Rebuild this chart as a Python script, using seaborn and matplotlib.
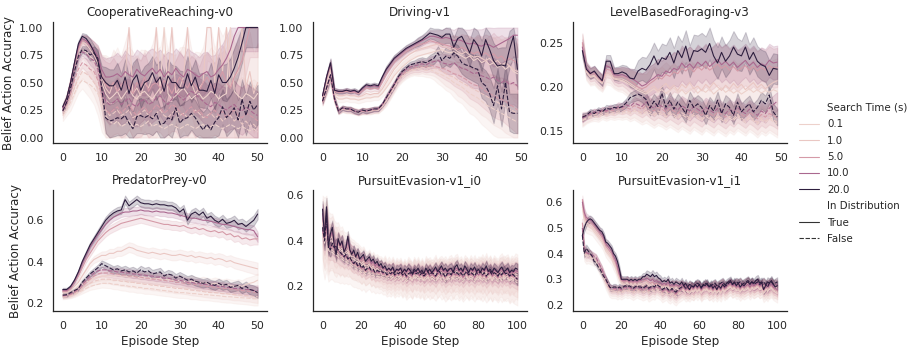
import matplotlib
matplotlib.use("Agg")
import matplotlib.pyplot as plt
import numpy as np
import pandas as pd
import seaborn as sns

ENVS = ["CooperativeReaching-v0", "Driving-v1", "LevelBasedForaging-v3",
        "PredatorPrey-v0", "PursuitEvasion-v1_i0", "PursuitEvasion-v1_i1"]
SEARCH_TIMES = [0.1, 1.0, 5.0, 10.0, 20.0]
X_LABEL = "Episode Step"
Y_LABEL = "Belief Action Accuracy"
HUE_LABEL = "Search Time (s)"
STYLE_LABEL = "In Distribution"

# ---------------- CooperativeReaching-v0 (steps 0..50) ----------------
cr_t_20 = [0.28,0.36,0.50,0.68,0.85,0.92,0.90,0.85,0.78,0.70,
           0.55,0.50,0.47,0.47,0.52,0.43,0.55,0.40,0.52,0.57,
           0.43,0.50,0.52,0.59,0.50,0.55,0.42,0.56,0.50,0.50,
           0.45,0.45,0.58,0.47,0.55,0.43,0.43,0.42,0.52,0.40,
           0.57,0.50,0.50,0.55,0.63,0.73,0.86,1.00,1.00,1.00,
           1.00]
cr_f_20 = [0.24,0.32,0.45,0.60,0.74,0.80,0.79,0.75,0.77,0.72,
           0.45,0.18,0.15,0.16,0.18,0.17,0.20,0.13,0.08,0.19,
           0.20,0.18,0.20,0.17,0.22,0.12,0.13,0.18,0.16,0.27,
           0.13,0.17,0.18,0.22,0.18,0.12,0.07,0.12,0.07,0.14,
           0.18,0.28,0.18,0.22,0.27,0.16,0.35,0.20,0.33,0.25,
           0.30]
cr_t_10 = [0.27,0.35,0.50,0.67,0.83,0.90,0.88,0.84,0.80,0.74,
           0.62,0.55,0.55,0.56,0.58,0.55,0.60,0.57,0.55,0.62,
           0.58,0.56,0.60,0.63,0.58,0.62,0.55,0.60,0.57,0.63,
           0.58,0.55,0.62,0.60,0.57,0.55,0.58,0.60,0.55,0.57,
           0.62,0.66,0.72,0.80,0.92,1.00,1.00,1.00,1.00,1.00,
           1.00]
cr_f_10 = [0.25,0.33,0.45,0.60,0.72,0.78,0.76,0.72,0.70,0.62,
           0.45,0.33,0.30,0.32,0.35,0.30,0.33,0.36,0.30,0.28,
           0.33,0.35,0.30,0.32,0.36,0.38,0.33,0.30,0.35,0.40,
           0.37,0.34,0.38,0.42,0.40,0.36,0.33,0.30,0.28,0.32,
           0.30,0.27,0.25,0.28,0.30,0.26,0.24,0.28,0.25,0.22,
           0.20]
cr_t_5 = [0.27,0.35,0.50,0.66,0.80,0.88,0.87,0.83,0.78,0.70,
          0.58,0.48,0.45,0.50,0.42,0.48,0.52,0.45,0.40,0.50,
          0.46,0.55,0.42,0.48,0.50,0.45,0.52,0.47,0.40,0.48,
          0.55,0.50,0.45,0.52,0.47,0.42,0.50,0.55,0.48,0.45,
          0.52,0.60,0.50,0.45,0.55,0.62,0.70,0.85,1.00,1.00,
          1.00]
cr_f_5 = [0.24,0.30,0.40,0.52,0.62,0.68,0.66,0.62,0.60,0.52,
          0.38,0.25,0.22,0.25,0.28,0.22,0.26,0.30,0.24,0.20,
          0.25,0.28,0.22,0.25,0.30,0.27,0.22,0.25,0.30,0.28,
          0.24,0.20,0.25,0.28,0.22,0.25,0.20,0.18,0.22,0.25,
          0.20,0.24,0.18,0.22,0.25,0.20,0.18,0.22,0.20,0.18,
          0.15]
cr_t_1 = [0.28,0.36,0.50,0.66,0.80,0.86,0.85,0.80,0.75,0.68,
          0.55,0.45,0.40,0.50,0.42,0.45,0.55,1.00,0.40,0.45,
          0.38,0.50,0.45,0.55,1.00,0.40,0.45,0.50,1.00,0.40,
          0.45,0.55,1.00,0.50,0.40,0.45,0.50,1.00,1.00,0.50,
          1.00,0.60,1.00,0.45,0.55,0.60,1.00,0.45,0.60,0.40,
          0.50]
cr_f_1 = [0.22,0.28,0.36,0.45,0.54,0.60,0.58,0.55,0.50,0.45,
          0.35,0.25,0.20,0.22,0.25,0.20,0.22,0.25,0.18,0.20,
          0.22,0.25,0.20,0.18,0.22,0.25,0.20,0.18,0.22,0.25,
          0.20,0.22,0.18,0.20,0.25,0.22,0.18,0.20,0.22,0.18,
          0.20,0.15,0.18,0.20,0.15,0.18,0.12,0.15,0.10,0.12,
          0.08]
cr_t_01 = [0.26,0.34,0.46,0.60,0.74,0.80,0.78,0.74,0.70,0.62,
           0.50,0.40,0.35,0.38,0.42,0.35,0.40,0.45,0.38,0.35,
           0.40,0.42,0.38,0.35,0.40,0.45,1.00,0.40,0.35,0.38,
           0.42,0.45,0.40,0.35,0.38,0.40,0.35,0.38,0.42,0.40,
           0.35,0.38,0.40,1.00,0.42,0.38,0.35,0.40,0.38,0.35,
           0.40]
cr_f_01 = [0.20,0.25,0.32,0.40,0.48,0.52,0.50,0.48,0.45,0.40,
           0.30,0.20,0.15,0.12,0.15,0.10,0.12,0.15,0.10,0.12,
           0.10,0.12,0.15,0.10,0.12,0.10,0.08,0.10,0.12,0.10,
           0.08,0.10,0.12,0.10,0.08,0.10,0.12,0.08,0.10,0.12,
           0.10,0.08,0.10,0.12,0.10,0.08,0.10,0.08,0.06,0.08,
           0.05]
cr_spread = [0.02,0.02,0.03,0.03,0.03,0.03,0.04,0.05,0.06,0.08,
             0.10,0.14,0.15,0.15,0.16,0.15,0.16,0.15,0.16,0.15,
             0.16,0.15,0.16,0.15,0.16,0.15,0.16,0.15,0.16,0.15,
             0.16,0.15,0.16,0.15,0.16,0.15,0.16,0.15,0.16,0.15,
             0.16,0.16,0.17,0.17,0.18,0.18,0.18,0.18,0.18,0.18,
             0.18]
cr_band_scale = [2.5, 2.0, 1.5, 1.2, 1.0]
cr_false_scale = 1.0

# ---------------- Driving-v1 (steps 0..49) ----------------
dr_t_20 = [0.38,0.55,0.68,0.43,0.42,0.42,0.43,0.42,0.43,0.41,
           0.45,0.48,0.47,0.48,0.47,0.55,0.62,0.67,0.72,0.75,
           0.78,0.81,0.83,0.85,0.87,0.89,0.92,0.95,0.94,0.93,
           0.91,0.94,0.94,0.82,0.90,0.92,0.85,0.77,0.89,0.84,
           0.74,0.89,0.80,0.70,0.65,0.66,0.65,0.80,0.92,0.62]
dr_f_20 = [0.33,0.45,0.57,0.35,0.24,0.27,0.26,0.26,0.24,0.23,
           0.25,0.24,0.25,0.26,0.26,0.30,0.36,0.42,0.48,0.55,
           0.60,0.63,0.66,0.67,0.68,0.69,0.68,0.70,0.72,0.77,
           0.70,0.74,0.72,0.77,0.74,0.68,0.66,0.65,0.63,0.62,
           0.50,0.47,0.40,0.29,0.47,0.26,0.50,0.23,0.22,0.22]
dr_t_10 = [0.38,0.55,0.67,0.43,0.42,0.42,0.43,0.42,0.42,0.41,
           0.44,0.47,0.46,0.47,0.46,0.54,0.61,0.66,0.71,0.74,
           0.77,0.80,0.82,0.84,0.86,0.88,0.90,0.92,0.92,0.91,
           0.90,0.91,0.90,0.88,0.89,0.88,0.86,0.85,0.86,0.84,
           0.83,0.85,0.84,0.82,0.84,0.86,0.88,0.90,0.93,0.93]
dr_f_10 = [0.33,0.45,0.56,0.35,0.24,0.27,0.26,0.26,0.24,0.23,
           0.25,0.24,0.25,0.26,0.26,0.30,0.36,0.42,0.48,0.54,
           0.59,0.62,0.64,0.65,0.66,0.67,0.66,0.68,0.69,0.70,
           0.68,0.67,0.66,0.68,0.65,0.63,0.62,0.60,0.58,0.59,
           0.56,0.55,0.53,0.55,0.52,0.50,0.52,0.48,0.50,0.47]
dr_t_5 = [0.37,0.53,0.65,0.42,0.41,0.41,0.42,0.41,0.41,0.40,
          0.42,0.45,0.44,0.45,0.44,0.50,0.57,0.63,0.68,0.72,
          0.75,0.78,0.80,0.82,0.84,0.85,0.86,0.88,0.87,0.86,
          0.85,0.84,0.83,0.82,0.80,0.82,0.80,0.78,0.76,0.78,
          0.75,0.77,0.74,0.76,0.72,0.74,0.70,0.72,0.70,0.68]
dr_f_5 = [0.32,0.44,0.55,0.34,0.24,0.26,0.26,0.25,0.24,0.23,
          0.24,0.24,0.25,0.25,0.26,0.29,0.35,0.41,0.47,0.53,
          0.57,0.60,0.62,0.63,0.64,0.65,0.64,0.66,0.65,0.64,
          0.63,0.62,0.60,0.58,0.57,0.55,0.53,0.50,0.48,0.47,
          0.45,0.42,0.40,0.38,0.36,0.35,0.33,0.30,0.28,0.25]
dr_t_1 = [0.36,0.50,0.62,0.40,0.38,0.38,0.39,0.38,0.38,0.37,
          0.38,0.40,0.39,0.40,0.40,0.44,0.50,0.56,0.62,0.66,
          0.70,0.73,0.76,0.78,0.80,0.81,0.82,0.83,0.84,0.85,
          0.83,0.82,0.80,0.81,0.78,0.76,0.78,0.75,0.73,0.74,
          0.72,0.70,0.72,0.68,0.70,0.66,0.68,0.65,0.62,0.60]
dr_f_1 = [0.32,0.43,0.54,0.34,0.24,0.26,0.25,0.25,0.24,0.23,
          0.24,0.24,0.24,0.25,0.25,0.28,0.34,0.40,0.46,0.52,
          0.56,0.59,0.61,0.62,0.63,0.64,0.63,0.64,0.63,0.62,
          0.60,0.58,0.56,0.55,0.52,0.50,0.48,0.46,0.44,0.42,
          0.40,0.38,0.36,0.34,0.32,0.30,0.28,0.26,0.24,0.22]
dr_t_01 = [0.35,0.48,0.60,0.38,0.35,0.35,0.36,0.35,0.35,0.34,
           0.35,0.36,0.36,0.37,0.37,0.40,0.45,0.50,0.56,0.60,
           0.64,0.67,0.70,0.72,0.74,0.75,0.76,0.77,0.78,0.79,
           0.80,0.78,0.77,0.78,0.76,0.74,0.72,0.74,0.70,0.72,
           0.68,0.70,0.66,0.68,0.64,0.66,0.62,0.65,0.60,0.58]
dr_f_01 = [0.32,0.43,0.53,0.34,0.24,0.26,0.25,0.25,0.24,0.23,
           0.24,0.24,0.24,0.25,0.25,0.28,0.33,0.39,0.45,0.51,
           0.55,0.58,0.60,0.61,0.62,0.62,0.61,0.62,0.60,0.58,
           0.57,0.55,0.53,0.50,0.48,0.46,0.43,0.40,0.38,0.36,
           0.33,0.30,0.28,0.26,0.24,0.22,0.20,0.18,0.16,0.14]
dr_spread = [0.02,0.03,0.04,0.02,0.02,0.02,0.02,0.02,0.02,0.02,
             0.02,0.02,0.02,0.02,0.02,0.02,0.03,0.03,0.03,0.03,
             0.03,0.03,0.03,0.03,0.04,0.04,0.04,0.05,0.05,0.06,
             0.07,0.08,0.08,0.09,0.10,0.10,0.11,0.12,0.12,0.13,
             0.14,0.14,0.15,0.16,0.16,0.16,0.17,0.17,0.18,0.18]
dr_band_scale = [1.5, 1.4, 1.2, 1.1, 1.0]
dr_false_scale = 1.0

# ---------------- LevelBasedForaging-v3 (steps 0..49) ----------------
lbf_t_20 = [0.241,0.220,0.215,0.218,0.212,0.207,0.229,0.229,0.215,0.215,
            0.217,0.215,0.210,0.209,0.218,0.221,0.219,0.225,0.235,0.225,
            0.233,0.231,0.239,0.227,0.241,0.233,0.246,0.229,0.241,0.240,
            0.243,0.239,0.249,0.235,0.227,0.239,0.229,0.235,0.245,0.237,
            0.235,0.245,0.231,0.239,0.229,0.225,0.223,0.213,0.221,0.220]
lbf_f_20 = [0.166,0.168,0.172,0.170,0.174,0.172,0.176,0.175,0.177,0.176,
            0.178,0.182,0.188,0.190,0.192,0.190,0.186,0.176,0.184,0.178,
            0.193,0.177,0.185,0.175,0.183,0.177,0.170,0.185,0.177,0.181,
            0.177,0.168,0.179,0.173,0.185,0.170,0.181,0.177,0.168,0.183,
            0.172,0.177,0.181,0.172,0.177,0.185,0.181,0.191,0.172,0.166]
lbf_t_10 = [0.245,0.222,0.216,0.217,0.212,0.208,0.224,0.222,0.214,0.213,
            0.214,0.212,0.210,0.208,0.205,0.201,0.203,0.207,0.210,0.214,
            0.212,0.218,0.216,0.221,0.219,0.227,0.222,0.226,0.221,0.228,
            0.224,0.229,0.223,0.227,0.231,0.225,0.229,0.224,0.228,0.222,
            0.226,0.230,0.224,0.228,0.222,0.226,0.224,0.230,0.227,0.228]
lbf_f_10 = [0.165,0.167,0.170,0.172,0.171,0.174,0.173,0.176,0.175,0.178,
            0.177,0.180,0.178,0.182,0.180,0.178,0.183,0.179,0.176,0.181,
            0.178,0.175,0.180,0.177,0.174,0.179,0.176,0.173,0.178,0.175,
            0.172,0.177,0.174,0.171,0.176,0.173,0.170,0.175,0.172,0.177,
            0.173,0.170,0.175,0.172,0.168,0.173,0.170,0.176,0.180,0.184]
lbf_t_5 = [0.250,0.220,0.214,0.215,0.210,0.206,0.220,0.219,0.212,0.211,
           0.212,0.210,0.207,0.204,0.200,0.198,0.200,0.204,0.207,0.211,
           0.209,0.214,0.212,0.217,0.215,0.221,0.218,0.222,0.217,0.223,
           0.219,0.224,0.219,0.222,0.226,0.221,0.224,0.219,0.223,0.218,
           0.221,0.224,0.219,0.223,0.218,0.222,0.219,0.224,0.221,0.222]
lbf_f_5 = [0.166,0.168,0.169,0.171,0.170,0.173,0.172,0.174,0.173,0.176,
           0.175,0.177,0.175,0.179,0.177,0.175,0.179,0.176,0.173,0.177,
           0.175,0.172,0.176,0.173,0.170,0.175,0.172,0.169,0.174,0.171,
           0.168,0.173,0.170,0.167,0.172,0.169,0.166,0.171,0.168,0.173,
           0.169,0.166,0.171,0.168,0.164,0.169,0.166,0.170,0.168,0.165]
lbf_t_1 = [0.248,0.218,0.212,0.213,0.208,0.205,0.216,0.215,0.210,0.209,
           0.209,0.207,0.204,0.201,0.198,0.196,0.194,0.198,0.201,0.196,
           0.200,0.204,0.198,0.202,0.196,0.203,0.199,0.205,0.198,0.201,
           0.196,0.203,0.199,0.205,0.200,0.196,0.202,0.198,0.204,0.199,
           0.203,0.197,0.201,0.205,0.199,0.203,0.198,0.202,0.205,0.207]
lbf_f_1 = [0.163,0.165,0.167,0.169,0.168,0.171,0.170,0.172,0.171,0.173,
           0.172,0.174,0.172,0.175,0.173,0.171,0.175,0.172,0.169,0.173,
           0.171,0.168,0.172,0.169,0.166,0.171,0.168,0.165,0.170,0.167,
           0.164,0.169,0.166,0.163,0.168,0.165,0.162,0.167,0.164,0.169,
           0.165,0.162,0.167,0.164,0.160,0.165,0.162,0.166,0.163,0.160]
lbf_t_01 = [0.246,0.217,0.211,0.212,0.207,0.204,0.214,0.213,0.209,0.208,
            0.207,0.205,0.202,0.199,0.196,0.194,0.192,0.195,0.198,0.194,
            0.197,0.193,0.196,0.199,0.194,0.197,0.192,0.196,0.199,0.193,
            0.197,0.194,0.198,0.192,0.196,0.199,0.194,0.197,0.193,0.196,
            0.192,0.195,0.198,0.194,0.197,0.193,0.196,0.194,0.197,0.195]
lbf_f_01 = [0.162,0.164,0.166,0.167,0.166,0.169,0.168,0.170,0.169,0.171,
            0.170,0.172,0.170,0.173,0.171,0.169,0.172,0.170,0.167,0.171,
            0.169,0.166,0.170,0.167,0.164,0.169,0.166,0.163,0.168,0.165,
            0.162,0.167,0.164,0.161,0.166,0.163,0.160,0.165,0.162,0.167,
            0.163,0.160,0.165,0.162,0.158,0.163,0.160,0.164,0.161,0.158]
lbf_spread = [0.008,0.006,0.006,0.006,0.006,0.006,0.007,0.007,0.007,0.008,
              0.008,0.009,0.010,0.011,0.012,0.013,0.014,0.015,0.015,0.016,
              0.016,0.016,0.017,0.017,0.017,0.018,0.018,0.018,0.018,0.018,
              0.018,0.018,0.018,0.018,0.018,0.018,0.018,0.018,0.018,0.018,
              0.017,0.017,0.017,0.017,0.017,0.017,0.017,0.017,0.017,0.017]
lbf_band_scale = [1.6, 1.5, 1.3, 1.1, 1.0]
lbf_false_scale = 0.55

# ---------------- PredatorPrey-v0 (steps 0..50) ----------------
pp_t_20 = [0.265,0.265,0.28,0.31,0.35,0.40,0.44,0.48,0.51,0.54,
           0.57,0.60,0.62,0.635,0.645,0.65,0.70,0.67,0.685,0.70,
           0.685,0.68,0.68,0.675,0.68,0.675,0.675,0.67,0.67,0.66,
           0.64,0.655,0.60,0.63,0.64,0.625,0.64,0.61,0.62,0.60,
           0.59,0.605,0.585,0.59,0.60,0.58,0.585,0.57,0.585,0.60,
           0.63]
pp_f_20 = [0.238,0.24,0.25,0.26,0.27,0.30,0.32,0.34,0.355,0.37,
           0.39,0.38,0.37,0.36,0.365,0.355,0.36,0.35,0.355,0.345,
           0.36,0.35,0.355,0.34,0.345,0.35,0.33,0.34,0.335,0.32,
           0.33,0.32,0.31,0.315,0.305,0.30,0.295,0.30,0.29,0.285,
           0.295,0.285,0.29,0.275,0.28,0.285,0.27,0.28,0.265,0.26,
           0.25]
pp_t_10 = [0.26,0.26,0.275,0.305,0.345,0.39,0.43,0.47,0.50,0.53,
           0.555,0.58,0.60,0.615,0.625,0.635,0.64,0.64,0.645,0.645,
           0.65,0.645,0.645,0.64,0.645,0.64,0.64,0.635,0.635,0.63,
           0.625,0.62,0.615,0.61,0.61,0.605,0.60,0.60,0.595,0.59,
           0.585,0.58,0.58,0.575,0.57,0.565,0.56,0.555,0.555,0.55,
           0.52]
pp_f_10 = [0.235,0.237,0.245,0.255,0.27,0.29,0.31,0.33,0.345,0.355,
           0.36,0.36,0.355,0.355,0.35,0.35,0.345,0.345,0.34,0.34,
           0.335,0.335,0.33,0.33,0.325,0.325,0.32,0.32,0.315,0.31,
           0.31,0.305,0.30,0.30,0.295,0.295,0.29,0.29,0.285,0.285,
           0.28,0.28,0.275,0.275,0.27,0.27,0.268,0.265,0.265,0.26,
           0.26]
pp_t_5 = [0.255,0.255,0.27,0.30,0.33,0.37,0.41,0.44,0.47,0.50,
          0.52,0.54,0.555,0.565,0.575,0.585,0.59,0.595,0.60,0.605,
          0.61,0.605,0.60,0.595,0.59,0.585,0.58,0.58,0.575,0.575,
          0.57,0.575,0.565,0.56,0.565,0.555,0.56,0.55,0.545,0.55,
          0.54,0.545,0.53,0.535,0.52,0.525,0.51,0.515,0.505,0.51,
          0.51]
pp_f_5 = [0.233,0.235,0.24,0.25,0.265,0.28,0.30,0.315,0.33,0.34,
          0.345,0.345,0.345,0.34,0.34,0.335,0.335,0.33,0.33,0.325,
          0.325,0.32,0.32,0.315,0.315,0.31,0.31,0.305,0.305,0.30,
          0.30,0.295,0.295,0.29,0.29,0.285,0.285,0.28,0.28,0.275,
          0.275,0.27,0.27,0.268,0.265,0.262,0.26,0.258,0.255,0.252,
          0.25]
pp_t_1 = [0.25,0.25,0.26,0.28,0.30,0.33,0.36,0.39,0.41,0.42,
          0.43,0.43,0.44,0.44,0.45,0.45,0.46,0.47,0.465,0.455,
          0.45,0.445,0.44,0.445,0.44,0.435,0.44,0.435,0.43,0.43,
          0.435,0.43,0.425,0.43,0.42,0.425,0.42,0.415,0.42,0.41,
          0.415,0.41,0.40,0.405,0.395,0.39,0.385,0.38,0.375,0.37,
          0.365]
pp_f_1 = [0.23,0.232,0.236,0.245,0.255,0.27,0.285,0.295,0.305,0.31,
          0.315,0.315,0.315,0.31,0.31,0.305,0.305,0.30,0.30,0.295,
          0.295,0.29,0.29,0.285,0.285,0.28,0.28,0.275,0.275,0.27,
          0.27,0.268,0.265,0.262,0.26,0.258,0.255,0.252,0.25,0.25,
          0.248,0.245,0.245,0.242,0.24,0.24,0.238,0.236,0.235,0.232,
          0.23]
pp_t_01 = [0.24,0.24,0.25,0.26,0.28,0.29,0.30,0.31,0.32,0.325,
           0.33,0.33,0.335,0.33,0.335,0.33,0.33,0.325,0.33,0.325,
           0.32,0.325,0.32,0.315,0.32,0.315,0.31,0.315,0.31,0.305,
           0.31,0.305,0.30,0.305,0.30,0.295,0.30,0.295,0.29,0.295,
           0.29,0.285,0.29,0.285,0.28,0.285,0.28,0.29,0.295,0.30,
           0.31]
pp_f_01 = [0.228,0.23,0.233,0.24,0.25,0.26,0.27,0.28,0.285,0.29,
           0.295,0.295,0.295,0.29,0.29,0.285,0.285,0.28,0.28,0.275,
           0.275,0.27,0.27,0.268,0.265,0.262,0.26,0.258,0.255,0.252,
           0.25,0.25,0.248,0.245,0.245,0.242,0.24,0.24,0.238,0.236,
           0.235,0.232,0.23,0.23,0.228,0.226,0.225,0.224,0.222,0.22,
           0.22]
pp_spread = [0.008,0.008,0.008,0.009,0.010,0.011,0.012,0.013,0.014,0.015,
             0.016,0.017,0.018,0.018,0.019,0.019,0.020,0.020,0.020,0.020,
             0.020,0.020,0.020,0.020,0.020,0.020,0.020,0.020,0.020,0.020,
             0.020,0.020,0.020,0.021,0.021,0.021,0.021,0.021,0.021,0.022,
             0.022,0.022,0.022,0.022,0.023,0.023,0.023,0.024,0.024,0.025,
             0.025]
pp_band_scale = [1.3, 1.2, 1.1, 1.0, 1.0]
pp_false_scale = 1.0

# ---------------- PursuitEvasion-v1_i0 (steps 0..100) ----------------
pe0_t_20 = [0.54,0.42,0.55,0.37,0.43,0.46,0.38,0.34,0.41,0.38,
            0.40,0.35,0.37,0.42,0.36,0.34,0.36,0.33,0.35,0.32,
            0.33,0.34,0.31,0.32,0.33,0.31,0.32,0.30,0.31,0.29,
            0.30,0.28,0.29,0.27,0.28,0.27,0.285,0.26,0.275,0.27,
            0.28,0.26,0.275,0.265,0.28,0.27,0.255,0.275,0.265,0.28,
            0.26,0.27,0.255,0.28,0.265,0.275,0.26,0.27,0.285,0.265,
            0.275,0.29,0.27,0.28,0.265,0.275,0.28,0.26,0.285,0.295,
            0.27,0.28,0.265,0.29,0.275,0.26,0.28,0.27,0.285,0.265,
            0.275,0.26,0.28,0.27,0.29,0.265,0.275,0.26,0.28,0.27,
            0.26,0.275,0.285,0.265,0.27,0.28,0.26,0.27,0.265,0.28,
            0.275]
pe0_f_20 = [0.46,0.40,0.50,0.38,0.36,0.39,0.37,0.38,0.36,0.35,
            0.34,0.33,0.34,0.32,0.33,0.31,0.30,0.31,0.29,0.30,
            0.28,0.29,0.27,0.28,0.285,0.27,0.275,0.26,0.27,0.265,
            0.27,0.26,0.265,0.25,0.26,0.255,0.265,0.25,0.26,0.255,
            0.265,0.25,0.26,0.245,0.255,0.26,0.25,0.265,0.255,0.26,
            0.25,0.26,0.245,0.255,0.265,0.25,0.26,0.255,0.245,0.26,
            0.265,0.25,0.255,0.24,0.255,0.26,0.25,0.27,0.255,0.26,
            0.25,0.26,0.245,0.255,0.265,0.25,0.26,0.255,0.245,0.26,
            0.255,0.265,0.25,0.26,0.245,0.255,0.265,0.25,0.26,0.255,
            0.245,0.26,0.25,0.265,0.255,0.26,0.245,0.255,0.25,0.24,
            0.23]
pe0_t_10 = [0.52,0.44,0.50,0.40,0.42,0.44,0.39,0.36,0.40,0.38,
            0.39,0.36,0.37,0.40,0.36,0.35,0.35,0.33,0.34,0.32,
            0.32,0.33,0.31,0.31,0.32,0.30,0.31,0.29,0.30,0.285,
            0.29,0.28,0.28,0.27,0.275,0.27,0.28,0.265,0.27,0.27,
            0.275,0.265,0.27,0.26,0.275,0.265,0.26,0.27,0.26,0.275,
            0.26,0.265,0.255,0.27,0.26,0.27,0.255,0.265,0.275,0.26,
            0.27,0.28,0.265,0.27,0.26,0.27,0.275,0.26,0.275,0.28,
            0.265,0.27,0.26,0.28,0.27,0.26,0.275,0.265,0.275,0.26,
            0.27,0.26,0.275,0.265,0.28,0.26,0.27,0.255,0.27,0.265,
            0.26,0.27,0.275,0.26,0.265,0.27,0.255,0.265,0.26,0.27,
            0.265]
pe0_f_10 = [0.45,0.41,0.47,0.38,0.37,0.38,0.37,0.37,0.36,0.35,
            0.34,0.33,0.335,0.32,0.325,0.31,0.30,0.305,0.29,0.295,
            0.28,0.285,0.27,0.275,0.28,0.265,0.27,0.26,0.265,0.26,
            0.265,0.255,0.26,0.25,0.255,0.25,0.26,0.245,0.255,0.25,
            0.26,0.245,0.255,0.24,0.25,0.255,0.245,0.26,0.25,0.255,
            0.245,0.255,0.24,0.25,0.26,0.245,0.255,0.25,0.24,0.255,
            0.26,0.245,0.255,0.24,0.25,0.255,0.245,0.26,0.25,0.255,
            0.245,0.255,0.24,0.25,0.26,0.245,0.255,0.25,0.24,0.255,
            0.25,0.26,0.245,0.255,0.24,0.25,0.26,0.245,0.255,0.25,
            0.24,0.255,0.245,0.26,0.25,0.255,0.24,0.25,0.245,0.24,
            0.235]
pe0_t_5 = [0.50,0.45,0.48,0.41,0.42,0.43,0.39,0.37,0.39,0.37,
           0.38,0.36,0.36,0.38,0.35,0.34,0.34,0.33,0.33,0.32,
           0.31,0.32,0.30,0.30,0.31,0.29,0.30,0.28,0.29,0.28,
           0.28,0.27,0.275,0.265,0.27,0.26,0.27,0.26,0.265,0.26,
           0.27,0.255,0.265,0.25,0.27,0.26,0.25,0.265,0.255,0.27,
           0.255,0.26,0.25,0.265,0.255,0.265,0.25,0.26,0.27,0.255,
           0.265,0.27,0.26,0.265,0.255,0.265,0.27,0.255,0.27,0.275,
           0.26,0.265,0.255,0.27,0.265,0.255,0.27,0.26,0.27,0.255,
           0.265,0.255,0.27,0.26,0.275,0.255,0.265,0.25,0.265,0.26,
           0.255,0.265,0.27,0.255,0.26,0.265,0.25,0.26,0.255,0.265,
           0.26]
pe0_f_5 = [0.44,0.41,0.45,0.38,0.37,0.37,0.36,0.36,0.35,0.34,
           0.335,0.325,0.33,0.315,0.32,0.305,0.295,0.30,0.285,0.29,
           0.275,0.28,0.265,0.27,0.275,0.26,0.265,0.255,0.26,0.255,
           0.26,0.25,0.255,0.245,0.25,0.245,0.255,0.24,0.25,0.245,
           0.255,0.24,0.25,0.235,0.245,0.25,0.24,0.255,0.245,0.25,
           0.24,0.25,0.235,0.245,0.255,0.24,0.25,0.245,0.235,0.25,
           0.255,0.24,0.25,0.235,0.245,0.25,0.24,0.255,0.245,0.25,
           0.24,0.25,0.235,0.245,0.255,0.24,0.25,0.245,0.235,0.25,
           0.245,0.255,0.24,0.25,0.235,0.245,0.255,0.24,0.25,0.245,
           0.235,0.25,0.24,0.255,0.245,0.25,0.235,0.245,0.24,0.235,
           0.23]
pe0_t_1 = [0.48,0.44,0.46,0.40,0.41,0.42,0.38,0.37,0.38,0.36,
           0.37,0.35,0.35,0.36,0.34,0.33,0.33,0.32,0.32,0.31,
           0.30,0.31,0.29,0.29,0.30,0.28,0.29,0.27,0.28,0.27,
           0.27,0.26,0.27,0.25,0.26,0.25,0.265,0.245,0.26,0.25,
           0.26,0.24,0.255,0.24,0.26,0.25,0.235,0.26,0.245,0.26,
           0.24,0.255,0.235,0.26,0.245,0.255,0.24,0.25,0.265,0.24,
           0.255,0.26,0.245,0.255,0.24,0.255,0.26,0.24,0.26,0.265,
           0.245,0.255,0.24,0.26,0.25,0.24,0.26,0.245,0.26,0.24,
           0.255,0.24,0.26,0.245,0.265,0.24,0.255,0.235,0.255,0.245,
           0.24,0.255,0.26,0.24,0.25,0.255,0.235,0.25,0.24,0.255,
           0.25]
pe0_f_1 = [0.43,0.40,0.44,0.37,0.36,0.36,0.35,0.35,0.34,0.33,
           0.33,0.32,0.32,0.31,0.31,0.30,0.29,0.29,0.28,0.28,
           0.27,0.275,0.26,0.265,0.27,0.255,0.26,0.25,0.255,0.25,
           0.255,0.245,0.25,0.24,0.245,0.24,0.25,0.235,0.245,0.24,
           0.25,0.235,0.245,0.23,0.24,0.245,0.235,0.25,0.24,0.245,
           0.235,0.245,0.23,0.24,0.25,0.235,0.245,0.24,0.23,0.245,
           0.25,0.235,0.245,0.23,0.24,0.245,0.235,0.25,0.24,0.245,
           0.235,0.245,0.23,0.24,0.25,0.235,0.245,0.24,0.23,0.245,
           0.24,0.25,0.235,0.245,0.23,0.24,0.25,0.235,0.245,0.24,
           0.23,0.245,0.235,0.25,0.24,0.245,0.23,0.24,0.235,0.23,
           0.225]
pe0_t_01 = [0.46,0.43,0.44,0.39,0.40,0.40,0.37,0.36,0.37,0.35,
            0.36,0.34,0.34,0.35,0.33,0.32,0.32,0.31,0.31,0.30,
            0.29,0.30,0.28,0.28,0.29,0.27,0.28,0.265,0.27,0.26,
            0.26,0.25,0.26,0.24,0.255,0.24,0.255,0.235,0.25,0.24,
            0.25,0.23,0.245,0.23,0.25,0.24,0.225,0.25,0.235,0.25,
            0.23,0.245,0.225,0.25,0.235,0.245,0.23,0.24,0.255,0.23,
            0.245,0.25,0.235,0.245,0.23,0.245,0.25,0.23,0.25,0.255,
            0.235,0.245,0.23,0.25,0.24,0.23,0.25,0.235,0.25,0.23,
            0.245,0.23,0.25,0.235,0.255,0.23,0.245,0.225,0.245,0.235,
            0.23,0.245,0.25,0.23,0.24,0.245,0.225,0.24,0.23,0.245,
            0.24]
pe0_f_01 = [0.42,0.39,0.43,0.36,0.35,0.35,0.34,0.34,0.33,0.32,
            0.32,0.31,0.31,0.30,0.30,0.29,0.28,0.28,0.27,0.27,
            0.26,0.265,0.25,0.255,0.26,0.245,0.25,0.24,0.245,0.24,
            0.245,0.235,0.24,0.23,0.235,0.23,0.24,0.225,0.235,0.23,
            0.24,0.225,0.235,0.22,0.23,0.235,0.225,0.24,0.23,0.235,
            0.225,0.235,0.22,0.23,0.24,0.225,0.235,0.23,0.22,0.235,
            0.24,0.225,0.235,0.22,0.23,0.235,0.225,0.24,0.23,0.235,
            0.225,0.235,0.22,0.23,0.24,0.225,0.235,0.23,0.22,0.235,
            0.23,0.24,0.225,0.235,0.22,0.23,0.24,0.225,0.235,0.23,
            0.22,0.235,0.225,0.24,0.23,0.235,0.22,0.23,0.225,0.22,
            0.215]
pe0_spread = [0.035,0.040,0.040,0.035,0.030,0.030,0.030,0.030,0.028,0.027,
              0.026,0.025,0.024,0.023,0.022,0.022,0.021,0.021,0.020,0.020,
              0.020,0.019,0.019,0.018,0.018,0.018,0.018,0.018,0.018,0.018,
              0.018,0.018,0.019,0.019,0.019,0.019,0.019,0.019,0.019,0.019,
              0.019,0.019,0.019,0.020,0.020,0.020,0.020,0.020,0.020,0.020,
              0.020,0.020,0.020,0.021,0.021,0.021,0.021,0.021,0.021,0.021,
              0.021,0.021,0.022,0.022,0.022,0.022,0.022,0.022,0.022,0.022,
              0.022,0.022,0.022,0.022,0.022,0.022,0.022,0.022,0.022,0.022,
              0.022,0.023,0.023,0.023,0.023,0.023,0.023,0.023,0.023,0.023,
              0.023,0.023,0.024,0.024,0.024,0.024,0.024,0.024,0.025,0.025,
              0.025]
pe0_band_scale = [4.0, 3.0, 1.8, 1.3, 1.0]
pe0_false_scale = 1.0

# ---------------- PursuitEvasion-v1_i1 (steps 0..100) ----------------
pe1_t_20 = [0.47,0.50,0.52,0.53,0.535,0.53,0.52,0.51,0.50,0.49,
            0.485,0.47,0.445,0.44,0.43,0.42,0.40,0.39,0.37,0.34,
            0.30,0.30,0.30,0.30,0.295,0.30,0.295,0.30,0.295,0.30,
            0.30,0.31,0.31,0.32,0.315,0.31,0.32,0.31,0.315,0.305,
            0.30,0.29,0.295,0.29,0.30,0.285,0.29,0.28,0.29,0.285,
            0.28,0.29,0.275,0.285,0.27,0.26,0.275,0.27,0.28,0.27,
            0.28,0.265,0.28,0.275,0.285,0.27,0.28,0.265,0.275,0.26,
            0.275,0.265,0.28,0.27,0.285,0.29,0.295,0.28,0.29,0.275,
            0.285,0.27,0.28,0.275,0.285,0.29,0.28,0.29,0.285,0.295,
            0.30,0.285,0.29,0.26,0.275,0.29,0.285,0.295,0.28,0.27,
            0.275]
pe1_f_20 = [0.47,0.40,0.42,0.41,0.40,0.39,0.37,0.365,0.35,0.34,
            0.325,0.31,0.30,0.285,0.27,0.265,0.27,0.27,0.265,0.27,
            0.265,0.27,0.275,0.27,0.275,0.27,0.265,0.27,0.275,0.27,
            0.27,0.265,0.27,0.275,0.265,0.27,0.275,0.27,0.28,0.275,
            0.27,0.26,0.265,0.27,0.26,0.255,0.265,0.255,0.25,0.26,
            0.265,0.27,0.275,0.265,0.27,0.28,0.275,0.27,0.28,0.285,
            0.28,0.27,0.275,0.285,0.28,0.27,0.275,0.28,0.285,0.275,
            0.28,0.285,0.29,0.28,0.275,0.285,0.29,0.28,0.285,0.29,
            0.285,0.29,0.28,0.285,0.29,0.295,0.285,0.29,0.28,0.285,
            0.29,0.28,0.285,0.29,0.28,0.27,0.285,0.29,0.28,0.285,
            0.29]
pe1_t_10 = [0.60,0.56,0.54,0.535,0.53,0.525,0.515,0.505,0.495,0.485,
            0.475,0.46,0.44,0.43,0.42,0.41,0.39,0.375,0.35,0.32,
            0.30,0.295,0.295,0.30,0.29,0.295,0.29,0.295,0.29,0.295,
            0.295,0.30,0.30,0.305,0.30,0.295,0.30,0.29,0.295,0.29,
            0.29,0.28,0.285,0.28,0.29,0.275,0.28,0.275,0.28,0.275,
            0.275,0.28,0.27,0.275,0.265,0.26,0.27,0.265,0.275,0.265,
            0.275,0.26,0.27,0.27,0.275,0.265,0.27,0.26,0.27,0.26,
            0.27,0.26,0.275,0.265,0.275,0.28,0.285,0.275,0.28,0.27,
            0.275,0.265,0.275,0.27,0.275,0.28,0.27,0.28,0.275,0.28,
            0.285,0.275,0.28,0.26,0.27,0.28,0.275,0.28,0.27,0.265,
            0.26]
pe1_f_10 = [0.50,0.42,0.405,0.40,0.40,0.395,0.39,0.385,0.37,0.355,
            0.34,0.32,0.30,0.285,0.27,0.265,0.265,0.265,0.26,0.265,
            0.26,0.265,0.27,0.265,0.27,0.265,0.26,0.265,0.27,0.265,
            0.265,0.26,0.265,0.27,0.26,0.265,0.27,0.265,0.275,0.27,
            0.265,0.255,0.26,0.265,0.255,0.25,0.26,0.25,0.245,0.255,
            0.26,0.265,0.27,0.26,0.265,0.275,0.27,0.265,0.275,0.28,
            0.275,0.265,0.27,0.28,0.275,0.265,0.27,0.275,0.28,0.27,
            0.275,0.28,0.285,0.275,0.27,0.28,0.285,0.275,0.28,0.285,
            0.28,0.285,0.275,0.28,0.285,0.29,0.28,0.285,0.275,0.28,
            0.285,0.275,0.28,0.285,0.275,0.265,0.28,0.285,0.275,0.28,
            0.28]
pe1_t_5 = [0.61,0.55,0.53,0.525,0.52,0.515,0.505,0.495,0.485,0.475,
           0.465,0.45,0.43,0.42,0.41,0.40,0.38,0.365,0.34,0.315,
           0.295,0.29,0.29,0.295,0.285,0.29,0.285,0.29,0.285,0.29,
           0.29,0.29,0.295,0.295,0.29,0.285,0.29,0.28,0.285,0.28,
           0.28,0.275,0.28,0.275,0.28,0.27,0.275,0.27,0.275,0.27,
           0.27,0.275,0.265,0.27,0.26,0.255,0.265,0.26,0.27,0.26,
           0.27,0.255,0.265,0.265,0.27,0.26,0.265,0.255,0.265,0.255,
           0.265,0.255,0.27,0.26,0.27,0.275,0.28,0.27,0.275,0.265,
           0.27,0.26,0.27,0.265,0.27,0.275,0.265,0.275,0.27,0.275,
           0.28,0.27,0.275,0.255,0.265,0.275,0.27,0.275,0.265,0.26,
           0.255]
pe1_f_5 = [0.52,0.41,0.40,0.40,0.395,0.39,0.385,0.38,0.365,0.35,
           0.335,0.315,0.295,0.28,0.265,0.26,0.26,0.26,0.255,0.26,
           0.255,0.26,0.265,0.26,0.265,0.26,0.255,0.26,0.265,0.26,
           0.26,0.255,0.26,0.265,0.255,0.26,0.265,0.26,0.27,0.265,
           0.26,0.25,0.255,0.26,0.25,0.245,0.255,0.245,0.24,0.25,
           0.255,0.26,0.265,0.255,0.26,0.27,0.265,0.26,0.27,0.275,
           0.27,0.26,0.265,0.275,0.27,0.26,0.265,0.27,0.275,0.265,
           0.27,0.275,0.28,0.27,0.265,0.275,0.28,0.27,0.275,0.28,
           0.275,0.28,0.27,0.275,0.28,0.285,0.275,0.28,0.27,0.275,
           0.28,0.27,0.275,0.28,0.27,0.26,0.275,0.28,0.27,0.275,
           0.27]
pe1_t_1 = [0.59,0.54,0.52,0.515,0.51,0.505,0.495,0.485,0.475,0.465,
           0.455,0.44,0.42,0.41,0.40,0.39,0.37,0.355,0.33,0.31,
           0.29,0.285,0.285,0.29,0.28,0.285,0.28,0.285,0.28,0.285,
           0.285,0.28,0.285,0.29,0.28,0.28,0.285,0.275,0.28,0.275,
           0.275,0.27,0.275,0.27,0.275,0.265,0.27,0.265,0.27,0.265,
           0.265,0.27,0.26,0.265,0.255,0.25,0.26,0.255,0.265,0.255,
           0.265,0.25,0.26,0.26,0.265,0.255,0.26,0.25,0.26,0.25,
           0.26,0.25,0.265,0.255,0.265,0.27,0.275,0.265,0.27,0.26,
           0.265,0.255,0.265,0.26,0.265,0.27,0.26,0.27,0.265,0.27,
           0.275,0.265,0.27,0.25,0.26,0.27,0.265,0.27,0.26,0.255,
           0.25]
pe1_f_1 = [0.50,0.405,0.395,0.395,0.39,0.385,0.38,0.375,0.36,0.345,
           0.33,0.31,0.29,0.275,0.26,0.255,0.255,0.255,0.25,0.255,
           0.25,0.255,0.26,0.255,0.26,0.255,0.25,0.255,0.26,0.255,
           0.255,0.25,0.255,0.26,0.25,0.255,0.26,0.255,0.265,0.26,
           0.255,0.245,0.25,0.255,0.245,0.24,0.25,0.24,0.235,0.245,
           0.25,0.255,0.26,0.25,0.255,0.265,0.26,0.255,0.265,0.27,
           0.265,0.255,0.26,0.27,0.265,0.255,0.26,0.265,0.27,0.26,
           0.265,0.27,0.275,0.265,0.26,0.27,0.275,0.265,0.27,0.275,
           0.27,0.275,0.265,0.27,0.275,0.28,0.27,0.275,0.265,0.27,
           0.275,0.265,0.27,0.275,0.265,0.255,0.27,0.275,0.265,0.27,
           0.265]
pe1_t_01 = [0.58,0.53,0.51,0.505,0.50,0.495,0.485,0.475,0.465,0.455,
            0.445,0.43,0.41,0.40,0.39,0.38,0.36,0.345,0.32,0.30,
            0.285,0.28,0.28,0.285,0.275,0.28,0.275,0.28,0.275,0.28,
            0.28,0.275,0.28,0.285,0.275,0.275,0.28,0.27,0.275,0.27,
            0.27,0.265,0.27,0.265,0.27,0.26,0.265,0.26,0.265,0.26,
            0.26,0.265,0.255,0.26,0.25,0.245,0.255,0.25,0.26,0.25,
            0.26,0.245,0.255,0.255,0.26,0.25,0.255,0.245,0.255,0.245,
            0.255,0.245,0.26,0.25,0.26,0.265,0.27,0.26,0.265,0.255,
            0.26,0.25,0.26,0.255,0.26,0.265,0.255,0.265,0.26,0.265,
            0.27,0.26,0.265,0.245,0.255,0.265,0.26,0.265,0.255,0.25,
            0.245]
pe1_f_01 = [0.49,0.40,0.39,0.39,0.385,0.38,0.375,0.37,0.355,0.34,
            0.325,0.305,0.285,0.27,0.255,0.25,0.25,0.25,0.245,0.25,
            0.245,0.25,0.255,0.25,0.255,0.25,0.245,0.25,0.255,0.25,
            0.25,0.245,0.25,0.255,0.245,0.25,0.255,0.25,0.26,0.255,
            0.25,0.24,0.245,0.25,0.24,0.235,0.245,0.235,0.23,0.24,
            0.245,0.25,0.255,0.245,0.25,0.26,0.255,0.25,0.26,0.265,
            0.26,0.25,0.255,0.265,0.26,0.25,0.255,0.26,0.265,0.255,
            0.26,0.265,0.27,0.26,0.255,0.265,0.27,0.26,0.265,0.27,
            0.265,0.27,0.26,0.265,0.27,0.275,0.265,0.27,0.26,0.265,
            0.27,0.26,0.265,0.27,0.26,0.25,0.265,0.27,0.26,0.265,
            0.26]
pe1_spread = [0.012,0.015,0.015,0.014,0.013,0.012,0.012,0.012,0.012,0.012,
              0.012,0.012,0.012,0.012,0.012,0.012,0.012,0.012,0.012,0.012,
              0.012,0.012,0.012,0.012,0.013,0.013,0.013,0.013,0.013,0.013,
              0.014,0.014,0.015,0.015,0.016,0.016,0.016,0.015,0.015,0.015,
              0.015,0.015,0.015,0.015,0.015,0.015,0.016,0.016,0.016,0.016,
              0.016,0.016,0.016,0.016,0.016,0.016,0.016,0.016,0.016,0.016,
              0.016,0.016,0.016,0.016,0.016,0.016,0.016,0.016,0.016,0.016,
              0.016,0.016,0.016,0.016,0.016,0.016,0.016,0.016,0.016,0.016,
              0.017,0.017,0.017,0.017,0.017,0.017,0.017,0.017,0.017,0.017,
              0.017,0.017,0.017,0.017,0.018,0.018,0.018,0.018,0.018,0.018,
              0.018]
pe1_band_scale = [2.0, 1.6, 1.3, 1.1, 1.0]
pe1_false_scale = 1.0

# ---------------- assemble long-form table ----------------
env_true = [
    [cr_t_01, cr_t_1, cr_t_5, cr_t_10, cr_t_20],
    [dr_t_01, dr_t_1, dr_t_5, dr_t_10, dr_t_20],
    [lbf_t_01, lbf_t_1, lbf_t_5, lbf_t_10, lbf_t_20],
    [pp_t_01, pp_t_1, pp_t_5, pp_t_10, pp_t_20],
    [pe0_t_01, pe0_t_1, pe0_t_5, pe0_t_10, pe0_t_20],
    [pe1_t_01, pe1_t_1, pe1_t_5, pe1_t_10, pe1_t_20],
]
env_false = [
    [cr_f_01, cr_f_1, cr_f_5, cr_f_10, cr_f_20],
    [dr_f_01, dr_f_1, dr_f_5, dr_f_10, dr_f_20],
    [lbf_f_01, lbf_f_1, lbf_f_5, lbf_f_10, lbf_f_20],
    [pp_f_01, pp_f_1, pp_f_5, pp_f_10, pp_f_20],
    [pe0_f_01, pe0_f_1, pe0_f_5, pe0_f_10, pe0_f_20],
    [pe1_f_01, pe1_f_1, pe1_f_5, pe1_f_10, pe1_f_20],
]
env_spread = [cr_spread, dr_spread, lbf_spread, pp_spread, pe0_spread, pe1_spread]
env_band_scale = [cr_band_scale, dr_band_scale, lbf_band_scale,
                  pp_band_scale, pe0_band_scale, pe1_band_scale]
env_false_scale = [cr_false_scale, dr_false_scale, lbf_false_scale,
                   pp_false_scale, pe0_false_scale, pe1_false_scale]

rows = []
for e, env in enumerate(ENVS):
    spread = env_spread[e]
    for k, st in enumerate(SEARCH_TIMES):
        for flag, vals, fs in ((True, env_true[e][k], 1.0),
                               (False, env_false[e][k], env_false_scale[e])):
            for i, m in enumerate(vals):
                d = spread[min(i, len(spread) - 1)] * env_band_scale[e][k] * fs
                for v in (max(m - d, 0.0), m, min(m + d, 1.0)):
                    rows.append((env, st, flag, i, v))

df = pd.DataFrame(rows, columns=["env", HUE_LABEL, STYLE_LABEL, X_LABEL, Y_LABEL])

# ---------------- plot ----------------
sns.set_theme(context="notebook", style="white")
plt.rcParams["font.family"] = ["DejaVu Sans"]
plt.rcParams["legend.fontsize"] = 10.3
plt.rcParams["legend.labelspacing"] = 0.62

g = sns.relplot(
    data=df, x=X_LABEL, y=Y_LABEL, hue=HUE_LABEL,
    style=STYLE_LABEL, style_order=[True, False],
    col="env", col_order=ENVS, col_wrap=3, kind="line",
    estimator="median", errorbar=("pi", 100), linewidth=1.1,
    height=2.0, aspect=1.5,
    facet_kws=dict(sharex=False, sharey=False),
)
g.set_titles("{col_name}")

DPI = 72
fig = g.figure
fig.set_size_inches(917 / DPI, 347 / DPI)
fig.subplots_adjust(left=0.0578, right=0.8582, top=0.9366, bottom=0.1037,
                    wspace=0.212, hspace=0.388)
if g._legend is not None:
    g._legend.set_bbox_to_anchor((1.0, 0.5), transform=fig.transFigure)
fig.savefig("out.png", dpi=DPI)
